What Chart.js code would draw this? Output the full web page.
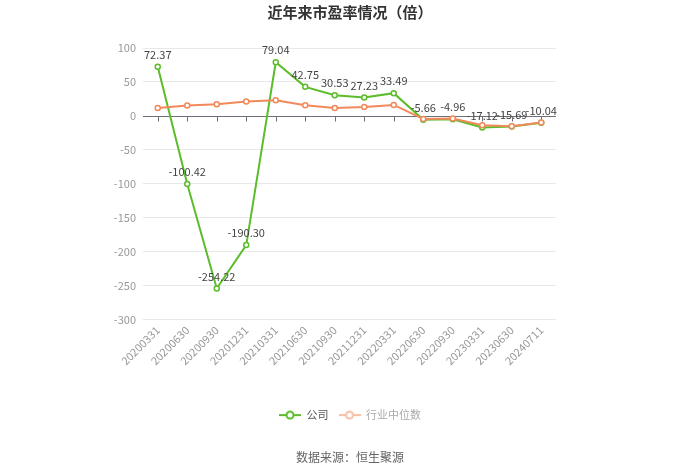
<!DOCTYPE html>
<html>
<head>
<meta charset="utf-8">
<script src="https://cdn.jsdelivr.net/npm/chart.js@4.4.1/dist/chart.umd.min.js"></script>
<style>
html, body { margin: 0; padding: 0; background: #fff; }
</style>
</head>
<body>
<canvas id="chart" width="700" height="473"></canvas>
<script>
const periods = ["20200331", "20200630", "20200930", "20201231", "20210331", "20210630", "20210930",
    "20211231", "20220331", "20220630", "20220930", "20230331", "20230630", "20240711"];
const companyPE = [72.37, -100.42, -254.22, -190.30, 79.04, 42.75, 30.53, 27.23, 33.49, -5.66, -4.96, -17.12, -15.69, -10.04];
const industryPE = [11.8, 15.3, 17.2, 21.2, 23.0, 15.7, 11.8, 13.2, 16.2, -4.4, -4.0, -13.8, -15.2, -9.6];
const yMin = -300, yMax = 100, yStep = 50;

const GREEN = '#5cbd2a';
const ORANGE = '#f2895b';

Chart.defaults.font.family = '"Microsoft YaHei","Noto Sans CJK SC","Noto Sans",sans-serif';
Chart.defaults.font.size = 11;

// legend icon: line with a hollow circle in the middle
function legendIcon(color) {
    let c = document.createElement('canvas');
    c.width = 22; c.height = 10;
    let g = c.getContext('2d');
    g.strokeStyle = color;
    g.lineWidth = 2;
    g.beginPath();
    g.moveTo(0, 5); g.lineTo(22, 5);
    g.stroke();
    g.fillStyle = '#fff';
    g.beginPath();
    g.arc(11, 5, 3.5, 0, Math.PI * 2);
    g.fill();
    g.stroke();
    return c;
}

// zero axis line with ticks, like the original
const zeroAxis = {
    id: 'zeroAxis',
    beforeDatasetsDraw(chart) {
        const {ctx, chartArea, scales: {x, y}} = chart;
        let y0 = Math.round(y.getPixelForValue(0)) + 0.5;
        ctx.save();
        ctx.strokeStyle = '#6e7079';
        ctx.lineWidth = 1;
        ctx.beginPath();
        ctx.moveTo(chartArea.left, y0);
        ctx.lineTo(chartArea.right, y0);
        periods.forEach((p, i) => {
            let px = Math.round(x.getPixelForValue(i)) + 0.5;
            ctx.moveTo(px, y0);
            ctx.lineTo(px, y0 + 5);
        });
        ctx.stroke();
        ctx.restore();
    }
};

// value labels above the company points
const valueLabels = {
    id: 'valueLabels',
    afterDatasetsDraw(chart) {
        const ctx = chart.ctx;
        let meta = chart.getDatasetMeta(0);
        ctx.save();
        ctx.font = '11px "Microsoft YaHei","Noto Sans CJK SC",sans-serif';
        ctx.fillStyle = '#444';
        ctx.textAlign = 'center';
        ctx.textBaseline = 'middle';
        meta.data.forEach((pt, i) => {
            ctx.fillText(companyPE[i].toFixed(2), pt.x, pt.y - 12);
        });
        ctx.restore();
    }
};

new Chart(document.getElementById('chart'), {
    type: 'line',
    data: {
        labels: periods,
        datasets: [{
            label: '公司',
            data: companyPE,
            borderColor: GREEN,
            backgroundColor: '#fff',
            borderWidth: 2,
            pointRadius: 2.5,
            pointBorderWidth: 1.5,
            pointBackgroundColor: '#fff',
            pointBorderColor: GREEN,
            tension: 0,
            order: 1,
        }, {
            label: '行业中位数',
            data: industryPE,
            borderColor: ORANGE,
            backgroundColor: '#fff',
            borderWidth: 2,
            pointRadius: 2.5,
            pointBorderWidth: 1.5,
            pointBackgroundColor: '#fff',
            pointBorderColor: ORANGE,
            tension: 0,
            order: 0,
        }]
    },
    options: {
        responsive: false,
        animation: false,
        layout: {
            padding: 0
        },
        scales: {
            x: {
                offset: true,
                grid: { display: false, drawTicks: false },
                border: { display: false },
                ticks: {
                    color: '#999',
                    minRotation: 45,
                    maxRotation: 45,
                    autoSkip: false,
                    padding: 4,
                    font: { size: 11 }
                },
                afterFit: s => { s.height = 80; }
            },
            y: {
                min: yMin,
                max: yMax,
                grid: {
                    drawTicks: false,
                    color: ctx => ctx.tick && ctx.tick.value === 0 ? 'rgba(0,0,0,0)' : '#e8e8e8'
                },
                border: { display: false },
                ticks: {
                    stepSize: yStep,
                    color: '#999',
                    padding: 7,
                    font: { size: 11 }
                },
                afterFit: s => { s.width = 143; }
            },
            // empty right axis, only keeps the right margin
            yRight: {
                position: 'right',
                min: yMin,
                max: yMax,
                grid: { display: false, drawTicks: false },
                border: { display: false },
                ticks: { display: false },
                afterFit: s => { s.width = 144; }
            }
        },
        plugins: {
            title: {
                display: true,
                text: '近年来市盈率情况（倍）',
                color: '#333',
                font: { size: 15, weight: 'bold' },
                padding: { top: 3, bottom: 27 }
            },
            subtitle: {
                display: true,
                position: 'bottom',
                text: '数据来源：恒生聚源',
                color: '#666',
                font: { size: 12 },
                padding: { top: 20, bottom: 8 }
            },
            legend: {
                position: 'bottom',
                labels: {
                    usePointStyle: true,
                    pointStyleWidth: 22,
                    boxHeight: 10,
                    padding: 10,
                    font: { size: 11 },
                    generateLabels: chart => chart.data.datasets.map((ds, i) => ({
                        text: ds.label,
                        pointStyle: legendIcon(i === 0 ? GREEN : '#f7bfa5'),
                        fontColor: i === 0 ? '#555' : '#aaa',
                        strokeStyle: 'rgba(0,0,0,0)',
                        fillStyle: 'rgba(0,0,0,0)',
                        lineWidth: 0,
                        datasetIndex: i
                    }))
                }
            },
            tooltip: { enabled: false }
        }
    },
    plugins: [zeroAxis, valueLabels]
});
</script>
</body>
</html>
